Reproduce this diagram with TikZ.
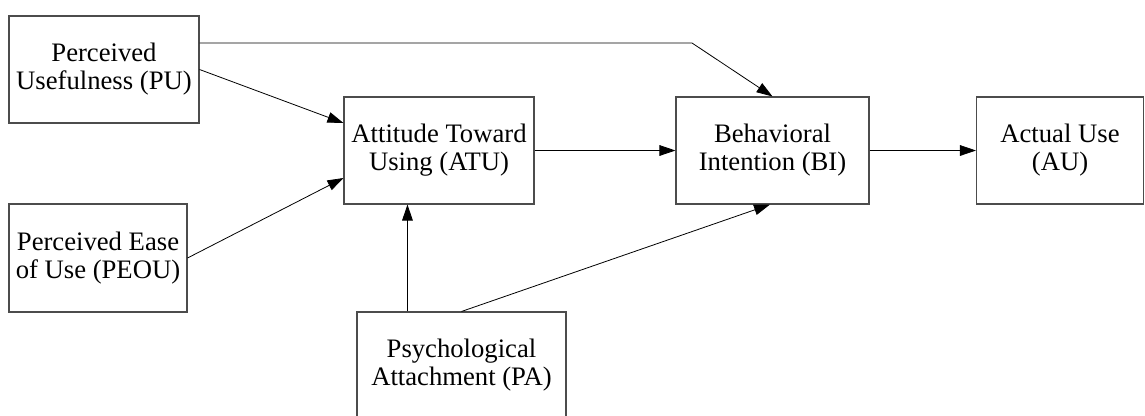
\documentclass[tikz,border=0pt]{standalone}
\usepackage{fontspec}
\setmainfont{Liberation Serif}
\usetikzlibrary{arrows.meta,calc}

\begin{document}
\begin{tikzpicture}[x=0.75pt, y=-0.75pt,
    factor/.style={draw=black!70, line width=0.8pt, align=center, inner sep=0pt,
        font=\fontsize{20}{21}\selectfont},
    link/.style={-{Triangle[length=12pt,width=8pt]}, line width=0.6pt}
    ]
    \useasboundingbox (0,0) rectangle (1145,415);

    % constructs
    \node[factor, minimum width=142.5pt, minimum height=80.25pt] (pu) at (104,69.5) {Perceived\\Usefulness (PU)};
    \node[factor, minimum width=133.5pt, minimum height=81pt] (peou) at (98,258) {Perceived Ease\\of Use (PEOU)};
    \node[factor, minimum width=142.5pt, minimum height=80.25pt] (atu) at (439,150.5) {Attitude Toward\\Using (ATU)};
    \node[factor, minimum width=144.75pt, minimum height=80.25pt] (bi) at (772.5,150.5) {Behavioral\\Intention (BI)};
    \node[factor, minimum width=125.25pt, minimum height=80.25pt] (au) at (1060,150.5) {Actual Use\\(AU)};
    \node[factor, minimum width=156.75pt, minimum height=79.5pt] (pa) at (461.5,365) {Psychological\\Attachment (PA)};

    % paths
    \coordinate (bend) at (692,43);
    \draw[link] (pu.east) -- ($(atu.west)+(0,-27.5)$);
    \draw[link] (peou.east) -- ($(atu.west)+(0,27.5)$);
    \draw[link] ($(pu.east)+(0,-26.5)$) -- (bend) -- (bi.north);
    \draw[link] (atu.east) -- (bi.west);
    \draw[link] (bi.east) -- (au.west);
    \draw[link] ($(pa.north west)+(51,0)$) coordinate (paup) -- (paup |- atu.south);
    \draw[link] (pa.north) -- ($(bi.south)+(-2.5,0)$);
\end{tikzpicture}
\end{document}
